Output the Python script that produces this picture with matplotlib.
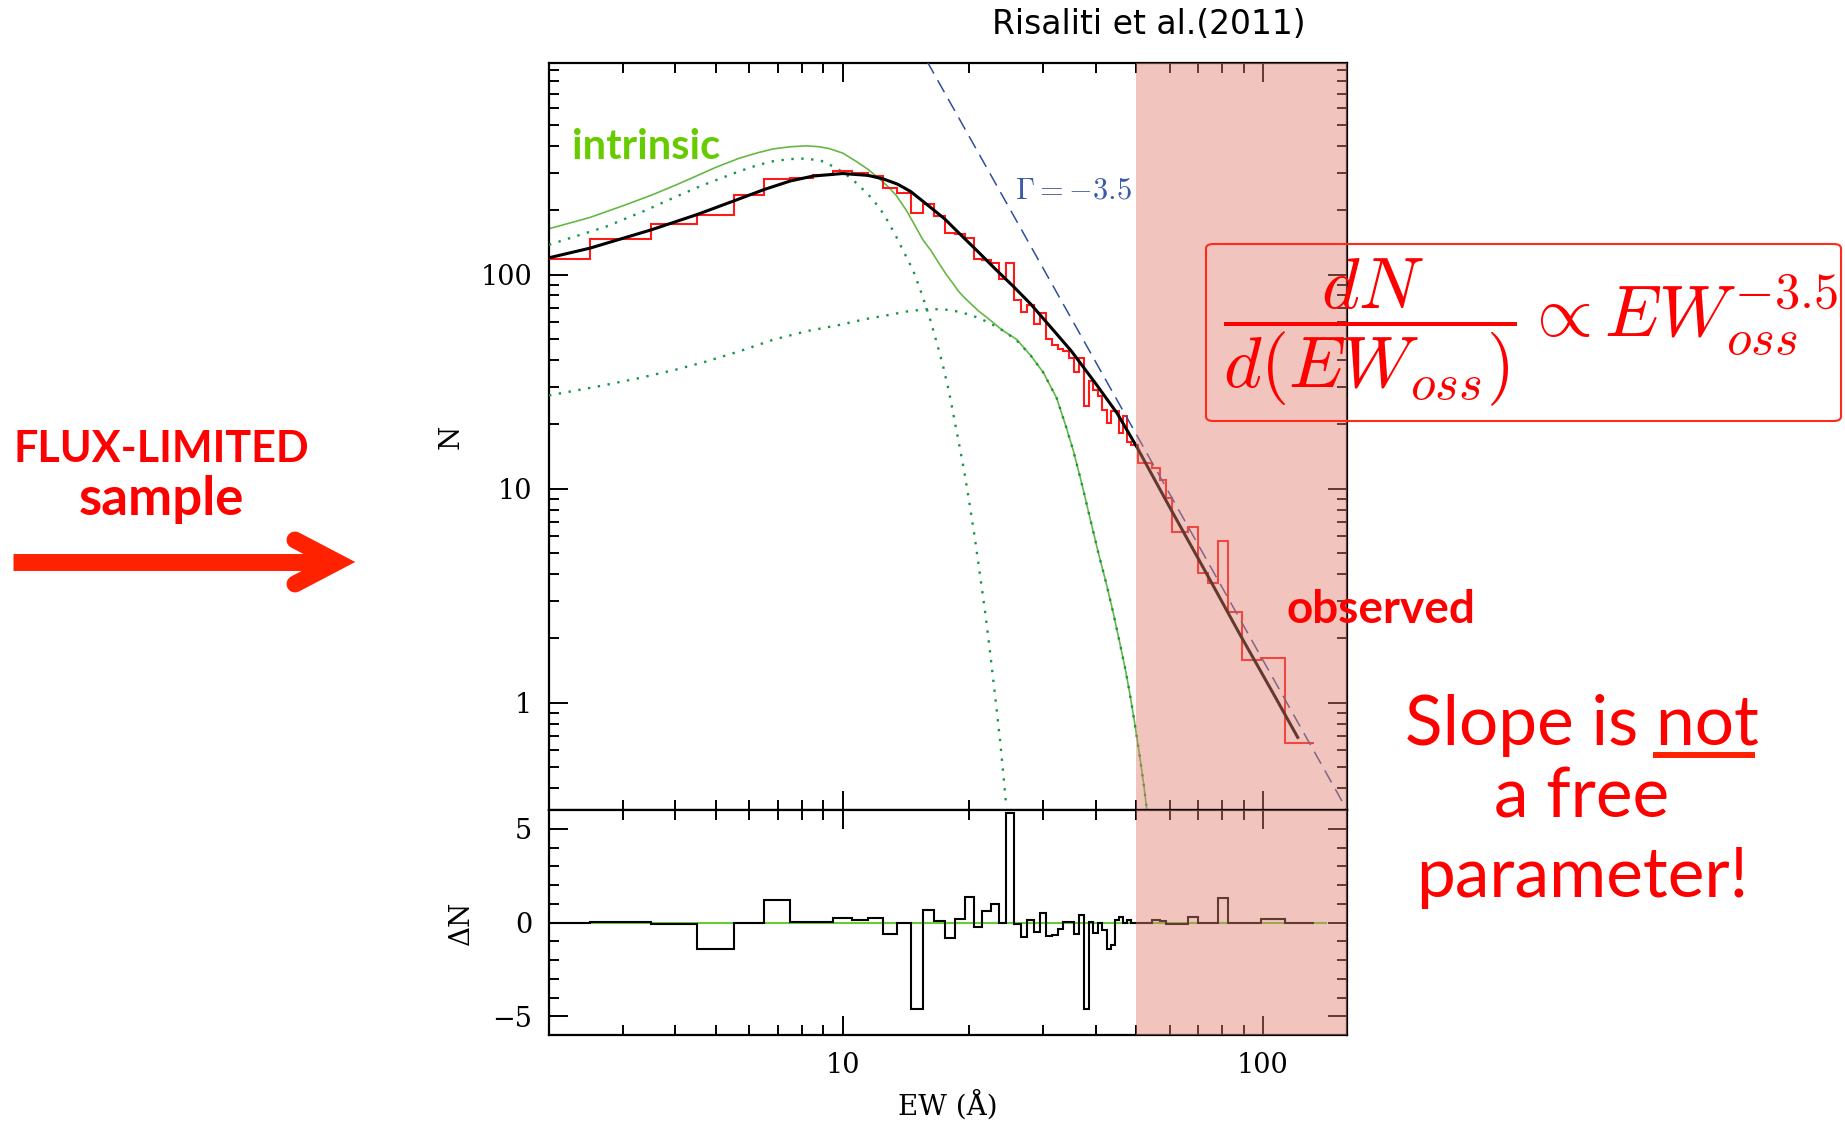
import numpy as np
import matplotlib
matplotlib.use("Agg")
import matplotlib.pyplot as plt
from matplotlib.ticker import FixedLocator, NullFormatter
from matplotlib.patches import FancyBboxPatch
from matplotlib.lines import Line2D

plt.rcParams["font.family"] = "DejaVu Serif"
plt.rcParams["mathtext.fontset"] = "cm"

W, H = 1845, 1129

RED = "#FF1A1A"
ANNOT = "#FF0000"
ARROW = "#FF2200"
GREEN = "#66B845"
DOTGREEN = "#17954A"
BLUE = "#2F4F9E"
SHADE = "#E08070"

# observed histogram: bin edges (EW, Angstrom) and counts
EDGES = [2.0, 2.5, 3.5, 4.5, 5.5, 6.5, 7.5, 8.5, 9.5, 10.5, 11.5, 12.5, 13.5,
         14.5, 15.5, 16.5, 17.5, 18.5, 19.5, 20.5, 21.5, 22.5, 23.5, 24.5,
         25.5, 26.5, 27.5, 28.5, 29.5, 30.5, 31.5, 32.5, 33.5, 34.5, 35.5,
         36.5, 37.5, 38.5, 39.5, 40.5, 41.5, 42.5, 43.5, 44.5, 45.5, 46.5,
         47.5, 48.5, 49.5, 50.5, 54.5, 57.0, 58.7, 60.8, 66.4, 70.0, 74.0,
         78.0, 82.4, 89.0, 99.0, 113.0, 132.0]
HIST_N = [119, 147, 173, 191, 235, 279, 283, 293, 304, 300,
          288, 255, 241, 194, 214, 188, 156, 155, 148, 118,
          117, 113, 96, 113, 76, 67, 72, 59, 66, 50,
          47, 45, 44, 41, 35, 41, 24.3, 32, 29, 27,
          23.4, 20.3, 23, 23, 18.2, 21.8, 16.5, 16.1, 16.1,
          13.2, 12.5, 11.0, 9.05, 6.3, 6.66, 4.04, 3.62, 5.68, 2.67,
          1.58, 1.62, 0.648]
RESID = [-0.03, 0.02, -0.07, -1.43, 0.0, 1.18, 0.03, 0.03, 0.24, 0.15,
         0.24, -0.6, -0.05, -4.6, 0.69, 0.1, -0.83, 0.18, 1.36, -0.25,
         0.62, 1.0, 0.0, 5.85, -0.07, -0.78, 0.14, -0.48, 0.53, -0.74,
         -0.65, -0.34, 0.05, 0.05, -0.6, 0.41, -4.6, 0.05, -0.56, 0.0,
         -0.39, -1.41, -1.18, 0.14, 0.32, 0.0, 0.14, -0.04, 0.0,
         -0.04, 0.14, 0.1, -0.07, -0.07, 0.32, -0.04, -0.04, 1.32, 0.0,
         0.0, 0.18, 0.0]

# best-fit observed model (black)
MODEL_EW = [2.0, 2.5, 3.0, 3.5, 4.5, 5.5, 6.5, 7.5, 8.5, 10.0, 11.5, 12.5,
            13.5, 14.5, 16.0, 17.5, 19.0, 21.0, 23.0, 25.5, 28.0, 31.0,
            35.0, 40.0, 45.0, 50.0, 60.0, 73.0, 88.0, 106.0, 121.0]
MODEL_N = [120, 133, 148, 162, 191, 221, 250, 274, 289, 297, 291, 280,
           265, 245, 210, 182, 155, 128, 107, 88, 73, 58,
           44, 31, 22.5, 15.8, 8.2, 4.1, 2.1, 1.1, 0.69]

# intrinsic distribution (green) and its two components (dotted)
INTR_EW = [2.0, 2.5, 3.0, 3.5, 4.0, 4.5, 5.0, 5.67, 6.3, 6.83, 7.5, 8.2,
           8.8, 9.3, 10.0, 10.78, 11.5, 12.24, 12.9, 13.42, 14.17, 14.8,
           15.5, 16.2, 17.0, 17.65, 18.3, 18.83, 19.5, 20.06, 21.0, 22.4,
           24.0, 25.9, 28.0, 30.0, 32.3, 34.0, 35.4, 37.0, 38.7, 40.5,
           42.4, 44.0, 45.6, 47.0, 48.2, 49.5, 50.8, 52.0, 52.9]
INTR_N = [164, 185, 210, 235, 262, 290, 318, 350, 372, 387, 396, 400,
          396, 388, 370, 338, 310, 280, 255, 234, 200, 172,
          146, 130, 112, 100, 91, 84, 78, 74, 68, 61.5,
          55, 50, 42, 35, 26.5, 19.5, 15, 10.7, 7.4, 5.1,
          3.6, 2.65, 1.92, 1.45, 1.11, 0.81, 0.58, 0.42, 0.32]
COMP1_EW = [2.0, 2.74, 3.4, 3.94, 4.6, 5.67, 6.3, 6.83, 7.5, 8.2, 8.9, 9.48,
            10.1, 10.78, 11.5, 12.24, 12.8, 13.42, 14.0, 14.7, 15.4, 16.1,
            16.7, 17.3, 17.9, 18.4, 19.0, 19.5, 20.0, 20.6, 21.2, 21.8,
            22.4, 23.0, 23.7, 24.5]
COMP1_N = [138, 168, 200, 228, 260, 304, 326, 339, 347, 349, 340, 321,
           298, 268, 237, 205, 178, 150, 127, 105, 82, 63,
           49, 38, 28.5, 21.5, 15.5, 11.8, 8.7, 6.0, 4.0, 2.7,
           1.75, 1.12, 0.66, 0.33]
COMP2_EW = [2.0, 2.6, 3.28, 4.0, 4.73, 5.7, 6.83, 8.2, 9.84, 11.3, 12.94,
            14.3, 15.82, 17.0, 17.9, 19.0, 20.06, 21.2, 22.4, 24.0, 25.9,
            28.0, 30.0, 32.3, 34.0, 35.4, 37.0, 38.7, 40.5, 42.4, 44.0,
            45.6, 47.0, 48.2, 49.5, 50.8, 52.0, 52.9]
COMP2_N = [27.3, 30, 32.9, 36, 39.3, 44, 49.7, 54.5, 58.3, 62, 65,
           67.5, 69, 69, 68.5, 67, 65, 62.5, 59.4, 55, 49.5,
           42, 35, 26.5, 19.5, 15, 10.7, 7.4, 5.1, 3.6, 2.65,
           1.92, 1.45, 1.11, 0.81, 0.58, 0.42, 0.32]

# power law with Gamma = -3.5
PL_EW = [15.0, 200.0]
PL_N = [1210, 0.14]

ZERO_EW = [2.0, 141.0]
ZERO_V = [0.0, 0.0]

SHADE_FROM = 50.0

X_MAJOR = [10, 100]
X_MINOR = [2, 3, 4, 5, 6, 7, 8, 9, 20, 30, 40, 50, 60, 70, 80, 90]
Y_MAJOR = [1, 10, 100]
Y_MINOR = [0.4, 0.5, 0.6, 0.7, 0.8, 0.9, 2, 3, 4, 5, 6, 7, 8, 9,
           20, 30, 40, 50, 60, 70, 80, 90, 200, 300, 400, 500, 600, 700, 800, 900]


def fx(px):
    return px / W


def fy(py):
    return 1 - py / H


def style(ax):
    ax.tick_params(which="both", direction="in", top=True, right=True,
                   width=1.4, labelsize=19.5, pad=12)
    ax.tick_params(which="major", length=14)
    ax.tick_params(which="minor", length=7)
    for s in ax.spines.values():
        s.set_linewidth(1.6)


fig = plt.figure(figsize=(W / 100, H / 100), dpi=100)

ax = fig.add_axes([fx(549), fy(810), (1347 - 549) / W, (810 - 63) / H])
axr = fig.add_axes([fx(549), fy(1035), (1347 - 549) / W, (1035 - 810) / H])

# top panel
ax.plot(INTR_EW, INTR_N, color=GREEN, lw=1.2, zorder=2)
ax.plot(COMP1_EW, COMP1_N, color=DOTGREEN, lw=1.7, ls=(0, (1, 3.2)), zorder=3)
ax.plot(COMP2_EW, COMP2_N, color=DOTGREEN, lw=1.7, ls=(0, (1, 3.2)), zorder=3)
ax.stairs(HIST_N, EDGES, baseline=None, color=RED, lw=1.5, zorder=4)
ax.plot(MODEL_EW, MODEL_N, color="black", lw=2.2, zorder=5)
ax.plot(PL_EW, PL_N, color=BLUE, lw=1.1, ls=(0, (9, 5)), zorder=6)

ax.set_xscale("log")
ax.set_yscale("log")
ax.set_xlim(2.0, 158.5)
ax.set_ylim(0.316, 975)
ax.xaxis.set_major_locator(FixedLocator(X_MAJOR))
ax.xaxis.set_minor_locator(FixedLocator(X_MINOR))
ax.xaxis.set_major_formatter(NullFormatter())
ax.xaxis.set_minor_formatter(NullFormatter())
ax.set_yticks(Y_MAJOR, labels=["1", "10", "100"])
ax.yaxis.set_minor_locator(FixedLocator(Y_MINOR))
ax.yaxis.set_minor_formatter(NullFormatter())
ax.set_ylabel("N", fontsize=20)
ax.yaxis.set_label_coords(-0.106, 0.5)
style(ax)

# residual panel
axr.plot(ZERO_EW, ZERO_V, color="#66CC33", lw=1.5, zorder=2)
axr.stairs(RESID, EDGES, baseline=None, color="black", lw=1.5, zorder=3)
axr.set_xscale("log")
axr.set_xlim(2.0, 158.5)
axr.set_ylim(-6, 6)
axr.set_xticks(X_MAJOR, labels=["10", "100"])
axr.xaxis.set_minor_locator(FixedLocator(X_MINOR))
axr.xaxis.set_minor_formatter(NullFormatter())
axr.set_yticks([-5, 0, 5], labels=["\u22125", "0", "5"])
axr.set_yticks(list(range(-6, 7)), minor=True)
axr.set_ylabel("\u0394N", fontsize=20)
axr.yaxis.set_label_coords(-0.093, 0.5)
axr.set_xlabel("EW (\u00c5)", fontsize=20)
axr.xaxis.set_label_coords(0.5, -0.245)
style(axr)

# observed range shading
for a in (ax, axr):
    a.axvspan(SHADE_FROM, 1000, color=SHADE, alpha=0.45, lw=0, zorder=10)
    a.set_xlim(2.0, 158.5)

# annotations
fig.text(fx(1149), fy(25), "Risaliti et al.(2011)", family="DejaVu Sans",
         fontsize=23.8, ha="center", va="center")
fig.text(fx(572), fy(159), "intrinsic", family="Lato", weight="bold",
         fontsize=30, color="#66CC00", ha="left", va="baseline")
fig.text(fx(1015), fy(190), r"$\Gamma{=}{-}3.5$", fontsize=22, color="#3A5BA8",
         ha="left", va="center")
fig.text(fx(1286), fy(623), "observed", family="Lato", weight="bold",
         fontsize=33, color=ANNOT, ha="left", va="baseline", zorder=20)

fig.text(fx(161), fy(462), "FLUX-LIMITED", family="Lato", weight="bold",
         fontsize=31, color=ANNOT, ha="center", va="baseline")
fig.text(fx(161), fy(515), "sample", family="Lato", weight="bold",
         fontsize=38, color=ANNOT, ha="center", va="baseline")

# arrow
fig.add_artist(Line2D([fx(13), fx(330)], [fy(562), fy(562)], lw=12.2,
                      color=ARROW, solid_capstyle="butt"))
fig.add_artist(Line2D([fx(295), fx(337), fx(295)], [fy(540), fy(562), fy(584)],
                      lw=12.2, color=ARROW, solid_capstyle="round",
                      solid_joinstyle="miter"))

# formula box
fig.add_artist(FancyBboxPatch((fx(1206), fy(421)), (1841 - 1206) / W,
                              (421 - 244) / H,
                              boxstyle="round,pad=0,rounding_size=0.004",
                              transform=fig.transFigure, fc="none",
                              ec="#FF2A1A", lw=1.5, zorder=20))
fig.text(fx(1530), fy(332),
         r"$\dfrac{dN}{d(EW_{oss})}\propto EW_{oss}^{-3.5}$",
         fontsize=52, color=ANNOT, ha="center", va="center", zorder=20)

# slope note
for txt, yb in [("Slope is not", 745), ("a free", 818), ("parameter!", 897)]:
    fig.text(fx(1582), fy(yb), txt, family="Lato", weight="normal", fontsize=50,
             color=ANNOT, ha="center", va="baseline")
fig.add_artist(Line2D([fx(1653), fx(1755)], [fy(755), fy(755)], lw=4.3,
                      color=ARROW, solid_capstyle="butt"))

fig.savefig("out.png", dpi=100)
